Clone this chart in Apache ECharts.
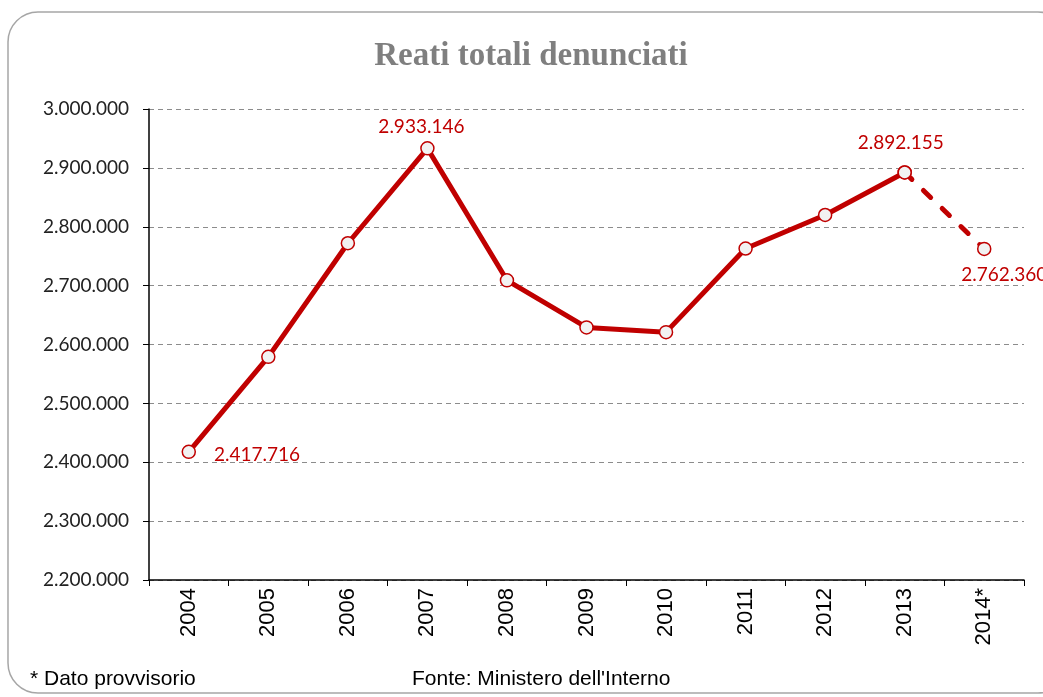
<!DOCTYPE html>
<html>
<head>
<meta charset="utf-8">
<script src="https://cdn.jsdelivr.net/npm/echarts@6/dist/echarts.min.js"></script>
<style>
  html, body { margin: 0; padding: 0; background: #fff; }
  #chart { width: 1043px; height: 697px; }
</style>
</head>
<body>
<div id="chart"></div>
<script>
// Data
const years = ['2004', '2005', '2006', '2007', '2008', '2009', '2010', '2011', '2012', '2013', '2014*'];
const reati = [2417716, 2579000, 2772000, 2933146, 2709000, 2629000, 2621000, 2763000, 2820000, 2892155, 2762360];
const yTicks = [2200000, 3000000, 100000]; // min, max, step

const RED = '#c00000';

// Italian thousands separator
function fmt(v) {
    return Math.round(v).toString().replace(/\B(?=(\d{3})+(?!\d))/g, '.');
}

// solid part up to 2013, dashed 2013 -> 2014 (provisional)
const solidData = reati.map((v, i) => (i <= 9 ? v : '-'));
const dashData = reati.map((v, i) => (i >= 9 ? v : '-'));

// labels only on a few points
const labelPos = { 0: 'right', 3: 'top', 9: 'top', 10: 'bottom' };
const labelOffset = { 0: [8, 3], 3: [-6, 5], 9: [-4, -3], 10: [20, -1] };

function pointLabels(data, idxList) {
    return data.map((v, i) => {
        if (v === '-') return v;
        if (idxList.indexOf(i) < 0) return { value: v };
        return {
            value: v,
            label: {
                show: true,
                position: labelPos[i],
                offset: labelOffset[i],
                formatter: p => fmt(p.value),
                color: RED,
                fontFamily: 'Lato',
                fontSize: 19,
                distance: 10
            }
        };
    });
}

const chart = echarts.init(document.getElementById('chart'));

const option = {
    animation: false,
    title: {
        text: 'Reati totali denunciati',
        left: 526,
        top: 35,
        textAlign: 'center',
        textStyle: {
            fontFamily: 'Liberation Serif',
            fontWeight: 'bold',
            fontSize: 33,
            color: '#7f7f7f'
        }
    },
    graphic: [
        {
            type: 'rect',
            shape: { x: 8, y: 12, width: 1060, height: 681, r: 30 },
            style: { fill: 'none', stroke: '#a6a6a6', lineWidth: 1.5 },
            silent: true,
            z: -1
        },
        {
            type: 'text',
            left: 30, top: 669,
            style: { text: '* Dato provvisorio', font: '21px "Liberation Sans"', fill: '#000' }
        },
        {
            type: 'text',
            left: 412, top: 669,
            style: { text: "Fonte: Ministero dell'Interno", font: '21px "Liberation Sans"', fill: '#000' }
        }
    ],
    grid: {
        left: 149,
        right: 19,
        top: 109,
        bottom: 117,
        containLabel: false
    },
    xAxis: {
        type: 'category',
        data: years,
        boundaryGap: true,
        axisLine: { lineStyle: { color: '#000', width: 1.5 } },
        axisTick: { show: true, length: 6, lineStyle: { color: '#000' } },
        axisLabel: {
            rotate: 90,
            color: '#000',
            fontFamily: 'Liberation Sans',
            fontSize: 22,
            margin: 8
        },
        splitLine: { show: false }
    },
    yAxis: {
        type: 'value',
        min: yTicks[0],
        max: yTicks[1],
        interval: yTicks[2],
        axisLine: { show: true, lineStyle: { color: '#000', width: 1.5 } },
        axisTick: { show: true, length: 6, lineStyle: { color: '#000' } },
        axisLabel: {
            formatter: v => fmt(v),
            color: '#222',
            fontFamily: 'Lato',
            fontSize: 19,
            margin: 20
        },
        splitLine: { show: true, lineStyle: { color: '#8c8c8c', type: [5, 4], width: 1 } }
    },
    series: [
        {
            name: 'Reati',
            type: 'line',
            data: pointLabels(solidData, [0, 3, 9]),
            symbol: 'circle',
            symbolSize: 13,
            lineStyle: { color: RED, width: 5 },
            itemStyle: { color: '#f2f2f2', borderColor: RED, borderWidth: 1.5 },
            z: 3
        },
        {
            name: 'Provvisorio',
            type: 'line',
            data: pointLabels(dashData, [10]),
            symbol: 'circle',
            symbolSize: 13,
            lineStyle: { color: RED, width: 5, type: [10, 16], cap: 'round' },
            itemStyle: { color: '#f2f2f2', borderColor: RED, borderWidth: 1.5 },
            z: 2
        }
    ]
};

chart.setOption(option);
</script>
</body>
</html>
